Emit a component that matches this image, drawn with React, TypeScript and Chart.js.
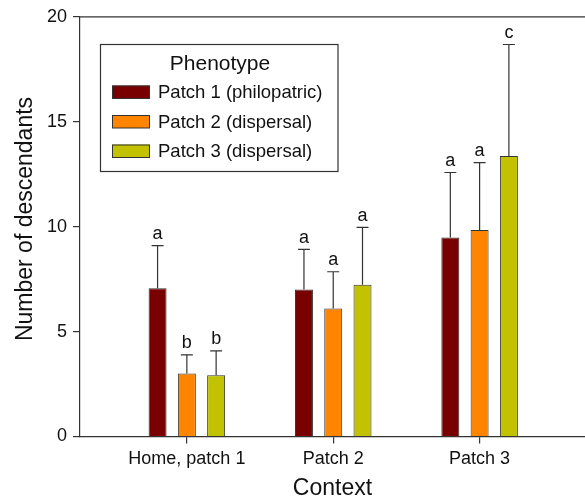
import React, { useEffect, useRef } from "react";
import { Chart, registerables } from "chart.js";

Chart.register(...registerables);

// ---- data ----
const categories = ["Home, patch 1", "Patch 2", "Patch 3"];
const categoryPositions = [1, 2, 3];
const seriesLabels = ["Patch 1 (philopatric)", "Patch 2 (dispersal)", "Patch 3 (dispersal)"];
const patch1Means = [7.07, 7.01, 9.48];
const patch2Means = [3.0, 6.1, 9.84];
const patch3Means = [2.92, 7.23, 13.37];
const patch1Errors = [2.03, 1.91, 3.1];
const patch2Errors = [0.89, 1.75, 3.21];
const patch3Errors = [1.16, 2.74, 5.31];
const patch1Letters = ["a", "a", "a"];
const patch2Letters = ["b", "a", "a"];
const patch3Letters = ["b", "a", "c"];
const yTicks = [0, 5, 10, 15, 20];
const legendTitle = "Phenotype";
const xTitle = "Context";
const yTitle = "Number of descendants";

const seriesColors = ["#780000", "#FF8500", "#C2C200"];
const FONT = "'Liberation Sans', Arial, Helvetica, sans-serif";
const INK = "#111";
const LINE = "#333";

const meansList = [patch1Means, patch2Means, patch3Means];
const errorsList = [patch1Errors, patch2Errors, patch3Errors];
const lettersList = [patch1Letters, patch2Letters, patch3Letters];

const errorPlugin = {
  id: "errorBarsLetters",
  afterDatasetsDraw(chart: any) {
    const ctx = chart.ctx;
    const yScale = chart.scales.y;
    ctx.save();
    chart.data.datasets.forEach((ds: any, di: number) => {
      const meta = chart.getDatasetMeta(di);
      meta.data.forEach((bar: any, i: number) => {
        const top = ds.data[i].y + ds.errors[i];
        const capY = yScale.getPixelForValue(top);
        const x = bar.x;
        ctx.strokeStyle = LINE;
        ctx.lineWidth = 1.2;
        ctx.beginPath();
        ctx.moveTo(x, bar.y);
        ctx.lineTo(x, capY);
        ctx.moveTo(x - 6, capY);
        ctx.lineTo(x + 6, capY);
        ctx.stroke();
        ctx.fillStyle = INK;
        ctx.font = `18px ${FONT}`;
        ctx.textAlign = "center";
        ctx.textBaseline = "alphabetic";
        ctx.fillText(ds.letters[i], x, capY - 6.5);
      });
    });
    ctx.restore();
  },
};

const framePlugin = {
  id: "frameLegend",
  afterDraw(chart: any) {
    const ctx = chart.ctx;
    const area = chart.chartArea;
    ctx.save();
    // top frame line
    ctx.strokeStyle = LINE;
    ctx.lineWidth = 1.2;
    ctx.beginPath();
    ctx.moveTo(area.left, area.top);
    ctx.lineTo(chart.width, area.top);
    ctx.stroke();

    // y axis title
    ctx.save();
    ctx.translate(32, 219);
    ctx.rotate(-Math.PI / 2);
    ctx.fillStyle = INK;
    ctx.font = `23px ${FONT}`;
    ctx.textAlign = "center";
    ctx.textBaseline = "alphabetic";
    ctx.fillText(yTitle, 0, 0);
    ctx.restore();

    // legend box
    const bx = 100.5, by = 44.5, bw = 237.5, bh = 127;
    ctx.fillStyle = "#fff";
    ctx.fillRect(bx, by, bw, bh);
    ctx.lineWidth = 1.2;
    ctx.strokeStyle = LINE;
    ctx.strokeRect(bx, by, bw, bh);
    ctx.fillStyle = INK;
    ctx.font = `21px ${FONT}`;
    ctx.textAlign = "center";
    ctx.textBaseline = "alphabetic";
    ctx.fillText(legendTitle, 220, 70);
    const rows = [92, 121.5, 151];
    chart.data.datasets.forEach((ds: any, i: number) => {
      const cy = rows[i];
      ctx.fillStyle = ds.backgroundColor;
      ctx.fillRect(112, cy - 6.5, 38, 13);
      ctx.lineWidth = 1;
      ctx.strokeStyle = LINE;
      ctx.strokeRect(112.5, cy - 6, 37, 12.5);
      ctx.fillStyle = INK;
      ctx.font = `18.5px ${FONT}`;
      ctx.textAlign = "left";
      ctx.textBaseline = "middle";
      ctx.fillText(ds.label, 158, cy + 1);
    });
    ctx.restore();
  },
};

export default function App() {
  const ref = useRef<HTMLCanvasElement | null>(null);
  useEffect(() => {
    if (!ref.current) return;
    const datasets = seriesLabels.map((label, si) => ({
      label,
      data: categoryPositions.map((x, ci) => ({ x, y: meansList[si][ci] })),
      errors: errorsList[si],
      letters: lettersList[si],
      backgroundColor: seriesColors[si],
      borderColor: LINE,
      borderWidth: 1,
      categoryPercentage: 0.6,
      barPercentage: 0.614,
    }));
    const chart = new Chart(ref.current, {
      type: "bar",
      data: { datasets } as any,
      options: {
        responsive: false,
        animation: false,
        layout: { padding: { top: 15.5, right: 0, left: 0, bottom: 0 } },
        plugins: { legend: { display: false }, tooltip: { enabled: false } },
        scales: {
          x: {
            type: "linear",
            min: 0.27,
            max: 3.72,
            offset: false,
            afterBuildTicks: (scale: any) => {
              scale.ticks = categoryPositions.map((v) => ({ value: v }));
            },
            afterFit: (scale: any) => {
              scale.height = 63.5;
            },
            grid: { offset: false, drawOnChartArea: false, drawTicks: true, tickLength: 7, color: LINE, lineWidth: 1.2 },
            border: { display: true, color: LINE, width: 1.2 },
            ticks: {
              padding: 5,
              color: INK,
              font: { family: FONT, size: 18 },
              maxRotation: 0,
              autoSkip: false,
              callback: (v: any) => categories[categoryPositions.indexOf(Number(v))] ?? "",
            },
            title: {
              display: true,
              text: xTitle,
              color: INK,
              font: { family: FONT, size: 23, lineHeight: 1 },
              padding: { top: 0, bottom: 0 },
            },
          },
          y: {
            min: 0,
            max: 20,
            afterBuildTicks: (scale: any) => {
              scale.ticks = yTicks.map((v) => ({ value: v }));
            },
            afterFit: (scale: any) => {
              scale.width = 80;
            },
            grid: { drawOnChartArea: false, drawTicks: true, tickLength: 7, color: LINE, lineWidth: 1.2 },
            border: { display: true, color: LINE, width: 1.2 },
            ticks: { padding: 6, color: INK, font: { family: FONT, size: 18 } },
            title: { display: false, text: yTitle },
          },
        },
      } as any,
      plugins: [errorPlugin, framePlugin],
    });
    return () => chart.destroy();
  }, []);
  return (
    <div style={{ position: "absolute", left: 0, top: 0, width: 585, height: 500, background: "#fff" }}>
      <canvas ref={ref} width={585} height={500} style={{ width: 585, height: 500, display: "block" }} />
    </div>
  );
}
